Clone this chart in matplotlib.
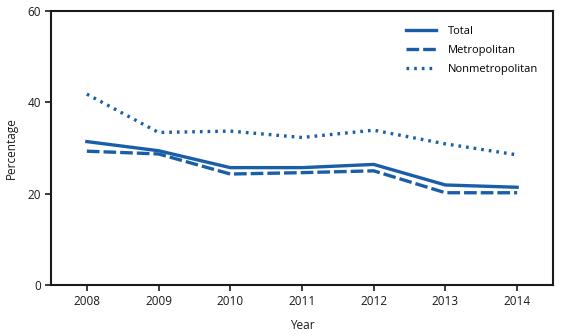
import matplotlib
matplotlib.use("Agg")
import matplotlib.pyplot as plt

LINE_COLOR = '#1a5ea8'
TEXT_COLOR = '#1a1a1a'

years = [2008, 2009, 2010, 2011, 2012, 2013, 2014]
total = [31.4, 29.4, 25.7, 25.7, 26.4, 21.9, 21.4]
metropolitan = [29.3, 28.7, 24.3, 24.6, 25.0, 20.2, 20.2]
nonmetropolitan = [41.8, 33.4, 33.7, 32.3, 33.9, 30.9, 28.5]

plt.rcParams['font.family'] = ['Open Sans', 'DejaVu Sans']

fig = plt.figure(figsize=(5.61, 3.36), dpi=100)
ax = fig.add_axes([0.0909, 0.1518, 0.8948, 0.8155])

lw = 2.4
ax.plot(years, total, color=LINE_COLOR, lw=lw, label='Total')
ax.plot(years, metropolitan, color=LINE_COLOR, lw=lw, dashes=(3.8, 1.2),
        label='Metropolitan')
ax.plot(years, nonmetropolitan, color=LINE_COLOR, lw=lw, dashes=(0.8, 1.5),
        label='Nonmetropolitan')

ax.set_xlim(2007.5, 2014.5)
ax.set_ylim(0, 60)
ax.set_xticks(years)
ax.set_yticks([0, 20, 40, 60])
ax.tick_params(direction='out', length=4, width=1.2, labelsize=8.5,
               colors=TEXT_COLOR, pad=3)

for s in ax.spines.values():
    s.set_linewidth(1.5)
    s.set_color(TEXT_COLOR)

ax.set_xlabel('Year', fontsize=8.5, color=TEXT_COLOR, labelpad=8)
ax.set_ylabel('Percentage', fontsize=8.5, color=TEXT_COLOR, labelpad=7)

ax.legend(loc='upper right', frameon=False, fontsize=8, handlelength=2.7,
          handletextpad=1.0, labelspacing=0.75, borderaxespad=0.3,
          bbox_to_anchor=(0.985, 0.975))

fig.savefig('out.png', dpi=100)
